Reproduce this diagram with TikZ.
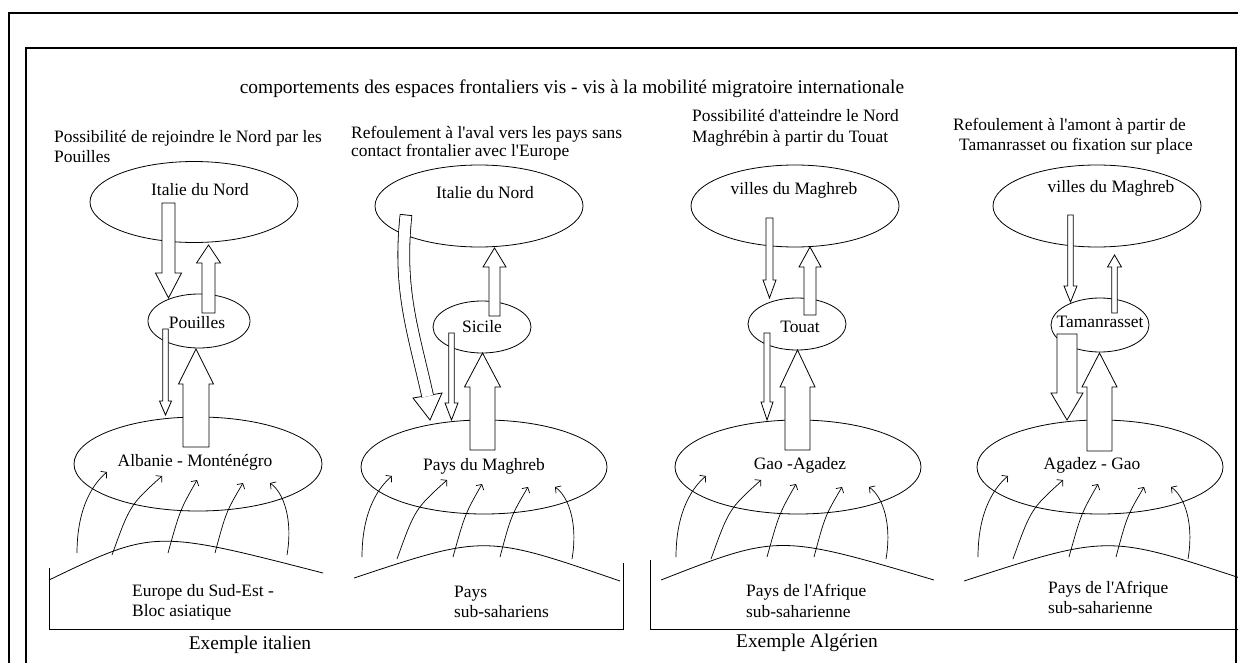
\documentclass[tikz,border=0pt]{standalone}
\usepackage{fontspec}
\setmainfont{Liberation Serif}
\usetikzlibrary{shapes.geometric,arrows.meta}
\newcommand\apos{\textquotesingle}
\newcommand\blockarr[6]{%
  \draw[blockarrow] ({#1-#5},#2) -- ({#1+#5},#2) -- ({#1+#5},#3) -- ({#1+#6},#3)
    -- (#1,#4) -- ({#1-#6},#3) -- ({#1-#5},#3) -- cycle;}
\newcommand\fanarrows[2]{%
  \begin{scope}[shift={(#1,#2)}]
    \draw[fan] (77,553) .. controls (77,505) and (95,482) .. (107,472);
    \draw[fan] (112,555) .. controls (130,505) .. (162,476);
    \draw[fan] (168,553) .. controls (180,510) .. (197,480);
    \draw[fan] (215,553) .. controls (226,512) .. (243,483);
    \draw[fan] (287,555) .. controls (293,520) and (284,493) .. (270,483);
  \end{scope}}
\begin{document}
\begin{tikzpicture}[x=1pt,y=-1pt,
  ln/.style={line width=0.8pt},
  ell/.style={ellipse, draw, line width=0.8pt, inner sep=0pt},
  txt/.style={font=\fontsize{17.4}{20}\selectfont, inner sep=0pt, anchor=base},
  lefttxt/.style={txt, anchor=base west},
  bigtxt/.style={font=\fontsize{19.4}{22}\selectfont, inner sep=0pt, anchor=base},
  blockarrow/.style={draw, fill=white, line width=0.8pt, line join=miter},
  fan/.style={line width=0.7pt, -{Straight Barb[length=4pt,width=9pt]}},
  frame/.style={line width=2.6pt}]
\useasboundingbox (0,0) rectangle (1238,663);
\clip (0,0) rectangle (1238,663);
\fill[white] (0,0) rectangle (1238,663);

% frames
\draw[frame] (9,700) -- (9,13) -- (1300,13);
\draw[frame] (26,700) -- (26,48) -- (1236,48) -- (1236,700);

% title and headings
\node[bigtxt] (title) at (572,94) {comportements des espaces frontaliers vis - vis à la mobilité migratoire internationale};
\node[lefttxt] (h1a) at (54,143) {Possibilité de rejoindre le Nord par les};
\node[lefttxt] (h1b) at (54,163) {Pouilles};
\node[lefttxt] (h2a) at (351,139) {Refoulement à l\apos aval vers les pays sans};
\node[lefttxt] (h2b) at (351,157) {contact frontalier avec l\apos Europe};
\node[lefttxt] (h3a) at (692,122) {Possibilité d\apos atteindre le Nord};
\node[lefttxt] (h3b) at (692,143) {Maghrébin à partir du Touat};
\node[lefttxt] (h4a) at (953,131) {Refoulement à l\apos amont à partir de};
\node[lefttxt] (h4b) at (959,151) {Tamanrasset ou fixation sur place};

% ellipses
\node[ell, minimum width=208pt, minimum height=81pt] (e1) at (194,202) {};
\node[ell, minimum width=208pt, minimum height=82pt] (e2) at (479,206) {};
\node[ell, minimum width=208pt, minimum height=82pt] (e3) at (795,206) {};
\node[ell, minimum width=208pt, minimum height=82pt] (e4) at (1097,206) {};
\node[ell, minimum width=102pt, minimum height=54pt] (m1) at (199,321) {};
\node[ell, minimum width=98pt, minimum height=52pt] (m2) at (482,327) {};
\node[ell, minimum width=98pt, minimum height=52pt] (m3) at (797,324) {};
\node[ell, minimum width=98pt, minimum height=54pt] (m4) at (1100,325) {};
\node[ell, minimum width=248pt, minimum height=94pt] (b1) at (198,464) {};
\node[ell, minimum width=246pt, minimum height=94pt] (b2) at (484,467) {};
\node[ell, minimum width=246pt, minimum height=94pt] (b3) at (798,467) {};
\node[ell, minimum width=246pt, minimum height=94pt] (b4) at (1100,467) {};

% ground arcs and brackets
\draw[ln] (49,580) .. controls (154,529.5) .. (323,573);
\draw[ln] (354,578) .. controls (485,534.5) .. (620,581);
\draw[ln] (661,580) .. controls (778.5,534) .. (934,580);
\draw[ln] (964,581) .. controls (1107.5,534.5) .. (1240,578);
\draw[ln] (49,568) -- (49,629) -- (623,629) -- (623,563);
\draw[ln] (650,560) -- (650,629) -- (1240,629);

% small fan arrows
\fanarrows{0}{0}
\fanarrows{285}{4}
\fanarrows{599}{4}
\fanarrows{901}{4}

% block arrows, panel 1
\blockarr{168.5}{203}{273}{298}{6.5}{13}
\blockarr{208.5}{313}{263}{245}{6.5}{12}
\blockarr{165.5}{329}{401}{415}{2.8}{6}
\blockarr{196}{447}{384}{349}{13}{17.5}
% panel 2
\draw[blockarrow] (413,398) -- (430,420) -- (442,393) -- cycle;
\draw[line width=0.8pt, double=white, double distance=11pt] (406,215) .. controls (398,290) and (413,330) .. (427.7,396.3);
\draw[ln] (400.1,214.4) -- (411.9,215.6);
\blockarr{494.5}{316}{267}{248}{5.5}{11.5}
\blockarr{451.5}{333}{403}{420}{2.8}{6.5}
\blockarr{482.5}{450}{387}{353}{12.5}{18}
% panel 3
\blockarr{769.5}{218}{280}{298}{3.5}{6.5}
\blockarr{810}{315}{267}{247}{6}{11}
\blockarr{767}{333}{402}{420}{3}{6}
\blockarr{797.5}{450}{387}{350}{12.5}{17.5}
% panel 4
\blockarr{1070.5}{215}{286}{302}{2.8}{6.5}
\blockarr{1114.5}{313}{267}{255}{2.8}{7}
\blockarr{1067}{334}{393}{420}{10}{16}
\blockarr{1099.5}{451}{387}{353}{12.5}{17.5}

% ellipse texts
\node[txt] (te1) at (200,195) {Italie du Nord};
\node[txt] (te2) at (485,198) {Italie du Nord};
\node[txt] (te3) at (794,194) {villes du Maghreb};
\node[txt] (te4) at (1111,193) {villes du Maghreb};
\node[txt] (tm1) at (197,328) {Pouilles};
\node[txt] (tm2) at (482,332) {Sicile};
\node[txt] (tm3) at (800,332) {Touat};
\node[txt] (tm4) at (1100,327) {Tamanrasset};
\node[txt] (tb1) at (195,466) {Albanie - Monténégro};
\node[txt] (tb2) at (484,470) {Pays du Maghreb};
\node[txt] (tb3) at (800,469) {Gao -Agadez};
\node[txt] (tb4) at (1092,469) {Agadez - Gao};

% bottom texts
\node[lefttxt] (g1a) at (132,596) {Europe du Sud-Est -};
\node[lefttxt] (g1b) at (132,616) {Bloc asiatique};
\node[lefttxt] (g2a) at (454,597) {Pays};
\node[lefttxt] (g2b) at (454,617) {sub-sahariens};
\node[lefttxt] (g3a) at (746,596) {Pays de l\apos Afrique};
\node[lefttxt] (g3b) at (746,617) {sub-saharienne};
\node[lefttxt] (g4a) at (1048,593) {Pays de l\apos Afrique};
\node[lefttxt] (g4b) at (1048,613) {sub-saharienne};
\node[bigtxt] (ex1) at (250,649) {Exemple italien};
\node[bigtxt] (ex2) at (807,647) {Exemple Algérien};
\end{tikzpicture}
\end{document}
